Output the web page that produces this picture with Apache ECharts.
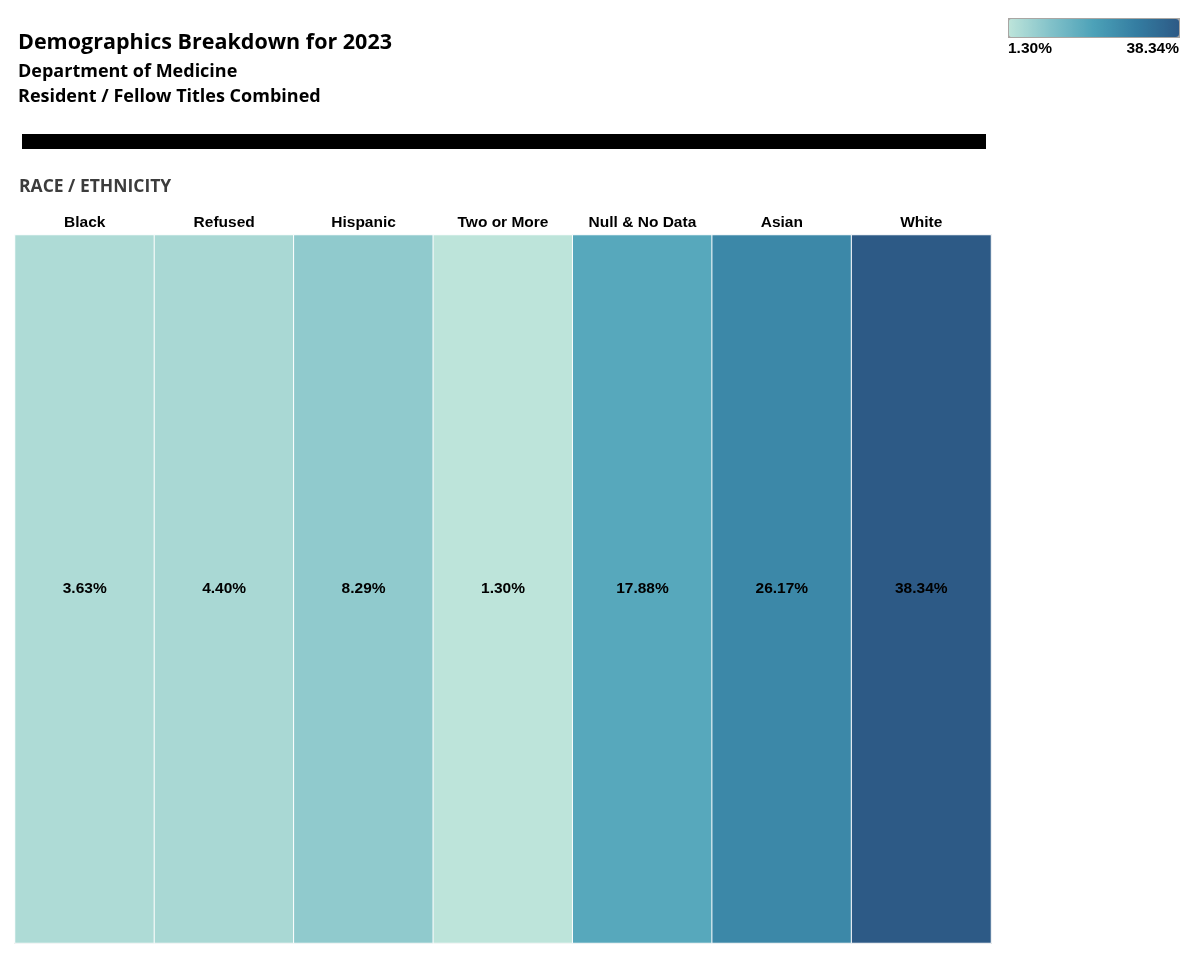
<!DOCTYPE html>
<html>
<head>
<meta charset="utf-8">
<script src="https://cdn.jsdelivr.net/npm/echarts@6/dist/echarts.min.js"></script>
<style>
html,body{margin:0;padding:0;background:#fff;}
#main{width:1200px;height:960px;}
</style>
</head>
<body>
<div id="main"></div>
<script>
var categories = ['Black', 'Refused', 'Hispanic', 'Two or More', 'Null & No Data', 'Asian', 'White'];
var percentages = [3.63, 4.40, 8.29, 1.30, 17.88, 26.17, 38.34];
var rowLabels = [''];
var colorStops = ['#bde4da', '#81c1c9', '#4ca1b8', '#347da1', '#2d5a86'];

var minVal = Math.min.apply(null, percentages);
var maxVal = Math.max.apply(null, percentages);
var heatData = percentages.map(function (v, i) { return [i, 0, v]; });

var chart = echarts.init(document.getElementById('main'));
var titleFont = '"Open Sans", "Noto Sans", sans-serif';
var labelFont = '"Liberation Sans", Arial, sans-serif';

chart.setOption({
  backgroundColor: '#ffffff',
  animation: false,
  title: [
    { text: 'Demographics Breakdown for 2023', left: 18, top: 32, padding: 0,
      textStyle: { fontFamily: titleFont, fontWeight: 'bold', fontSize: 21.5, color: '#000' } },
    { text: 'Department of Medicine', left: 18, top: 63, padding: 0,
      textStyle: { fontFamily: titleFont, fontWeight: 'bold', fontSize: 18, color: '#000' } },
    { text: 'Resident / Fellow Titles Combined', left: 18, top: 88, padding: 0,
      textStyle: { fontFamily: titleFont, fontWeight: 'bold', fontSize: 18, color: '#000' } },
    { text: 'RACE / ETHNICITY', left: 19, top: 178, padding: 0,
      textStyle: { fontFamily: titleFont, fontWeight: 'bold', fontSize: 17.5, color: '#3c3c3c' } }
  ],
  graphic: [
    { type: 'rect', shape: { x: 22, y: 134, width: 964, height: 15 }, style: { fill: '#000' } },
    { type: 'text', left: 1008, top: 41,
      style: { text: minVal.toFixed(2) + '%', font: 'bold 15.5px "Liberation Sans", Arial', fill: '#000' } },
    { type: 'text', right: 21, top: 41,
      style: { text: maxVal.toFixed(2) + '%', font: 'bold 15.5px "Liberation Sans", Arial', fill: '#000', textAlign: 'right' } }
  ],
  grid: { left: 15, right: 209, top: 235, bottom: 17 },
  xAxis: [
    { type: 'category', data: categories, position: 'top',
      axisLine: { show: true, lineStyle: { color: '#e6e6e6' } }, axisTick: { show: false }, splitLine: { show: false },
      axisLabel: { interval: 0, margin: 4, fontFamily: labelFont, fontWeight: 'bold', fontSize: 15.5, color: '#000' } },
    { type: 'category', data: categories, position: 'bottom',
      axisLine: { show: true, lineStyle: { color: '#c8c8c8', width: 1.5 } }, axisTick: { show: false },
      axisLabel: { show: false }, splitLine: { show: false } }
  ],
  yAxis: { type: 'category', data: rowLabels, position: 'right',
    axisLine: { show: true, lineStyle: { color: '#e0e0e0' } }, axisTick: { show: false }, axisLabel: { show: false } },
  visualMap: {
    type: 'continuous', min: minVal, max: maxVal, orient: 'horizontal', calculable: false,
    left: 1008, top: 18, itemWidth: 18, itemHeight: 170, padding: 0,
    borderColor: '#a9a6a3', borderWidth: 2, text: null, showLabel: false, hoverLink: false,
    inRange: { color: colorStops }, seriesIndex: 0
  },
  series: [{
    type: 'heatmap', xAxisIndex: 0, data: heatData,
    itemStyle: { borderColor: '#ffffff', borderWidth: 1 },
    label: { show: true, fontFamily: labelFont, fontWeight: 'bold', fontSize: 15.5, color: '#000',
      formatter: function (p) { return p.value[2].toFixed(2) + '%'; } },
    emphasis: { disabled: true }
  }]
});
</script>
</body>
</html>
